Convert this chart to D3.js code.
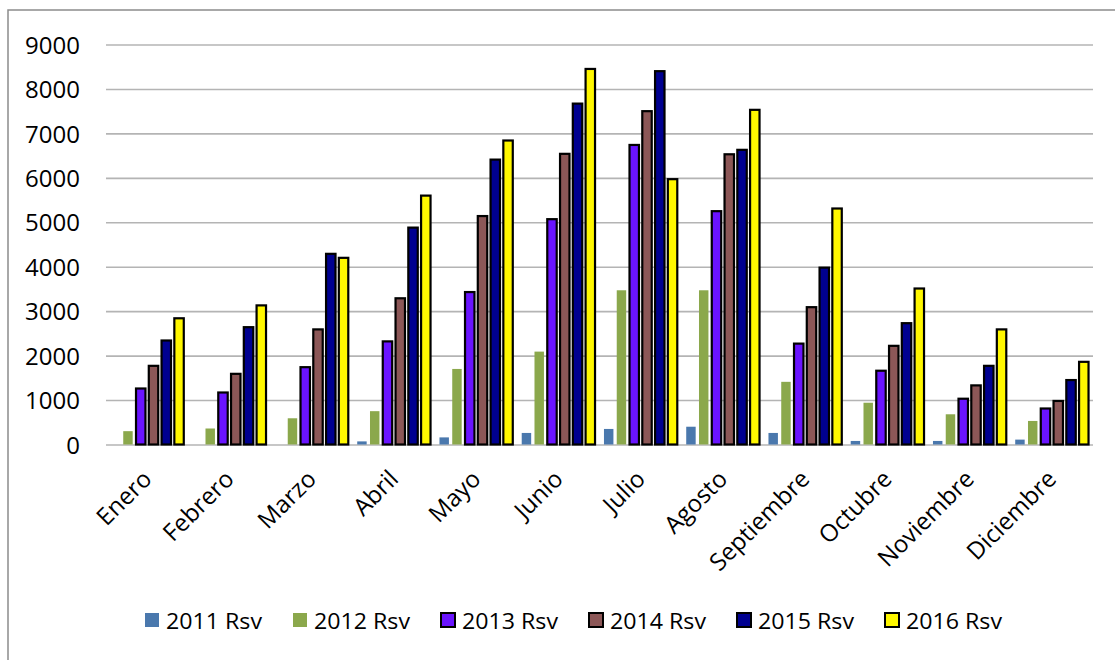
<!DOCTYPE html>
<html>
<head>
<meta charset="utf-8">
<script src="https://cdn.jsdelivr.net/npm/d3@7"></script>
<style>
  html, body { margin: 0; padding: 0; background: #fff; }
  svg { display: block; }
  text { font-family: "Open Sans", "Liberation Sans", sans-serif; fill: #000; }
</style>
</head>
<body>
<svg id="chart" width="1115" height="660"></svg>
<script>
// Monthly reservations per year
const months = ["Enero", "Febrero", "Marzo", "Abril", "Mayo", "Junio",
                "Julio", "Agosto", "Septiembre", "Octubre", "Noviembre", "Diciembre"];
const seriesNames = ["2011 Rsv", "2012 Rsv", "2013 Rsv", "2014 Rsv", "2015 Rsv", "2016 Rsv"];
const rsv2011 = [0, 0, 0, 70, 160, 260, 350, 400, 260, 80, 80, 110];
const rsv2012 = [300, 360, 590, 750, 1700, 2090, 3470, 3470, 1410, 940, 680, 530];
const rsv2013 = [1260, 1170, 1740, 2320, 3430, 5070, 6740, 5250, 2270, 1660, 1030, 810];
const rsv2014 = [1770, 1590, 2590, 3290, 5140, 6540, 7500, 6530, 3090, 2220, 1330, 980];
const rsv2015 = [2340, 2640, 4290, 4880, 6410, 7670, 8400, 6630, 3980, 2730, 1770, 1450];
const rsv2016 = [2840, 3130, 4200, 5600, 6840, 8450, 5970, 7530, 5310, 3510, 2590, 1860];
const yTicks = [0, 1000, 2000, 3000, 4000, 5000, 6000, 7000, 8000, 9000];

const seriesValues = [rsv2011, rsv2012, rsv2013, rsv2014, rsv2015, rsv2016];
const fills = ["#4a78ad", "#8ba84c", "#6a14ff", "#8c5757", "#000090", "#fff700"];
const outlined = [false, false, true, true, true, true];

const svg = d3.select("#chart");

// chart frame
svg.append("rect")
  .attr("x", 8).attr("y", 10)
  .attr("width", 1130).attr("height", 670)
  .attr("fill", "none").attr("stroke", "#8c8c8c").attr("stroke-width", 1.5);

const plot = { left: 106, right: 1093, top: 44.5, bottom: 444.5 };

const x = d3.scaleBand().domain(months).range([plot.left, plot.right]).padding(0);
const xi = d3.scaleBand().domain(seriesNames).range([0, x.bandwidth()])
  .paddingInner(0.26).paddingOuter(0.35);
const y = d3.scaleLinear().domain([0, 9000]).range([plot.bottom, plot.top]);

// horizontal gridlines
const grid = svg.append("g")
  .attr("transform", `translate(${plot.left},0)`)
  .call(d3.axisLeft(y).tickValues(yTicks).tickSize(-(plot.right - plot.left)).tickFormat(""));
grid.select(".domain").remove();
grid.selectAll("line").attr("stroke", "#b4b4b4").attr("stroke-width", 1.6);

// y axis labels
const yAxis = svg.append("g")
  .attr("transform", `translate(${plot.left},0)`)
  .call(d3.axisLeft(y).tickValues(yTicks).tickSize(0).tickPadding(26).tickFormat(d3.format("d")));
yAxis.select(".domain").remove();
yAxis.selectAll("text")
  .style("font-size", "24px")
  .attr("font-family", "\"Open Sans\", sans-serif")
  .attr("dy", "0.36em");

// bars
const groups = svg.append("g").selectAll("g")
  .data(seriesNames)
  .join("g")
  .attr("fill", (d, i) => fills[i])
  .attr("stroke", (d, i) => outlined[i] ? "#000" : "none")
  .attr("stroke-width", 2.2);

groups.selectAll("rect")
  .data((s, i) => months.map((m, j) => ({ month: m, series: s, value: seriesValues[i][j] })))
  .join("rect")
  .attr("x", d => x(d.month) + xi(d.series))
  .attr("width", xi.bandwidth())
  .attr("y", d => y(d.value))
  .attr("height", d => y(0) - y(d.value));

// month labels
const xAxis = svg.append("g")
  .attr("transform", `translate(0,${plot.bottom})`)
  .call(d3.axisBottom(x).tickSize(0).tickPadding(0));
xAxis.select(".domain").remove();
xAxis.selectAll("text")
  .style("font-size", "24px")
  .attr("font-family", "\"Open Sans\", sans-serif")
  .attr("text-anchor", "end")
  .attr("dy", null)
  .attr("y", null)
  .attr("transform", "translate(6,36) rotate(-45)");

// legend
const legend = svg.append("g").attr("transform", "translate(145,613)");
const item = legend.selectAll("g")
  .data(seriesNames)
  .join("g")
  .attr("transform", (d, i) => `translate(${i * 148},0)`);
item.append("rect")
  .attr("width", 14).attr("height", 14)
  .attr("fill", (d, i) => fills[i])
  .attr("stroke", (d, i) => outlined[i] ? "#000" : "none")
  .attr("stroke-width", 2);
item.append("text")
  .attr("x", 21).attr("y", 15.5)
  .style("font-size", "21px")
  .attr("textLength", 96)
  .attr("lengthAdjust", "spacingAndGlyphs")
  .text(d => d);
</script>
</body>
</html>
